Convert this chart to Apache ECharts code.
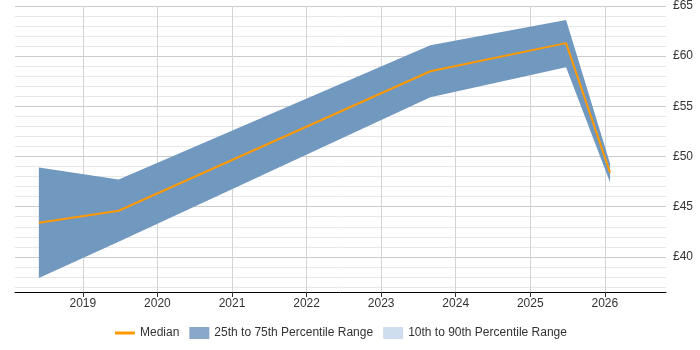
<!DOCTYPE html>
<html>
<head>
<meta charset="utf-8">
<script src="https://cdn.jsdelivr.net/npm/echarts@6/dist/echarts.min.js"></script>
<style>
  html, body { margin: 0; padding: 0; background: #fff; }
  #main { width: 700px; height: 350px; }
</style>
</head>
<body>
<div id="main"></div>
<script>
// data points as decimal years
var xYears = [2018.41, 2019.48, 2023.66, 2025.48, 2026.07];
var median = [43.4, 44.6, 58.5, 61.3, 48.4];
var p25 = [37.9, 41.5, 55.9, 58.9, 47.4];
var p75 = [48.9, 47.7, 61.1, 63.6, 49.3];

var yearTicks = [2019, 2020, 2021, 2022, 2023, 2024, 2025, 2026];
var yMajor = [40, 45, 50, 55, 60, 65];
var yMinor = [];
for (var v = 37; v <= 65; v++) yMinor.push(v);

function pairs(xs, ys) {
  var out = [];
  for (var i = 0; i < xs.length; i++) out.push([xs[i], ys[i]]);
  return out;
}

var bandData = [];
for (var i = 0; i < xYears.length; i++) bandData.push([xYears[i], p25[i], p75[i]]);

// polygon through the upper edge then back along the lower edge
function renderBand(params, api) {
  if (params.dataIndex !== 0) return;
  var pts = [];
  for (var i = 0; i < bandData.length; i++) pts.push(api.coord([bandData[i][0], bandData[i][2]]));
  for (var j = bandData.length - 1; j >= 0; j--) pts.push(api.coord([bandData[j][0], bandData[j][1]]));
  return {
    type: 'polygon',
    shape: { points: pts },
    style: { fill: 'rgb(113,152,191)' }
  };
}

var myChart = echarts.init(document.getElementById('main'));

var option = {
  animation: false,
  textStyle: { fontFamily: 'Arial, "Liberation Sans", sans-serif' },
  grid: { left: 15, right: 34, top: 3, bottom: 58 },
  legend: {
    bottom: 6,
    left: 110,
    itemWidth: 20,
    itemHeight: 12,
    itemGap: 10,
    textStyle: { fontSize: 12, color: '#333' },
    data: [
      { name: 'Median', icon: 'path://M0,5 L20,5 L20,8 L0,8 Z' },
      { name: '25th to 75th Percentile Range', icon: 'rect' },
      { name: '10th to 90th Percentile Range', icon: 'rect' }
    ]
  },
  xAxis: {
    type: 'value',
    min: 2018.09,
    max: 2026.82,
    axisLine: { show: true, lineStyle: { color: '#000', width: 1 } },
    axisTick: { show: true, length: 5, lineStyle: { color: '#333' }, customValues: yearTicks },
    axisLabel: { color: '#333', fontSize: 12, margin: 6, customValues: yearTicks, formatter: function (v) { return String(v); } },
    splitLine: { show: true, lineStyle: { color: '#d4d4d4' } }
  },
  yAxis: [
    {
      type: 'value',
      position: 'right',
      min: 36.5,
      max: 65,
      axisLine: { show: false },
      axisTick: { show: false, customValues: yMinor },
      axisLabel: { show: false, customValues: yMinor },
      splitLine: { show: true, lineStyle: { color: '#e8e8e8' } }
    },
    {
      type: 'value',
      position: 'right',
      min: 36.5,
      max: 65,
      axisLine: { show: false },
      axisTick: { show: false, customValues: yMajor },
      axisLabel: { color: '#333', fontSize: 12, margin: 7, customValues: yMajor, formatter: '£{value}' },
      splitLine: { show: true, lineStyle: { color: '#cccccc' } }
    }
  ],
  series: [
    {
      name: '25th to 75th Percentile Range',
      type: 'custom',
      yAxisIndex: 1,
      renderItem: renderBand,
      data: bandData,
      encode: { x: 0, y: [1, 2] },
      itemStyle: { color: '#89a7c9' },
      silent: true,
      z: 2
    },
    {
      name: '10th to 90th Percentile Range',
      type: 'line',
      yAxisIndex: 1,
      data: [],
      itemStyle: { color: '#cfdeee' }
    },
    {
      name: 'Median',
      type: 'line',
      yAxisIndex: 1,
      data: pairs(xYears, median),
      symbol: 'none',
      itemStyle: { color: '#ff9900' },
      lineStyle: { color: '#ff9900', width: 2 },
      z: 5
    }
  ]
};

myChart.setOption(option);
</script>
</body>
</html>
